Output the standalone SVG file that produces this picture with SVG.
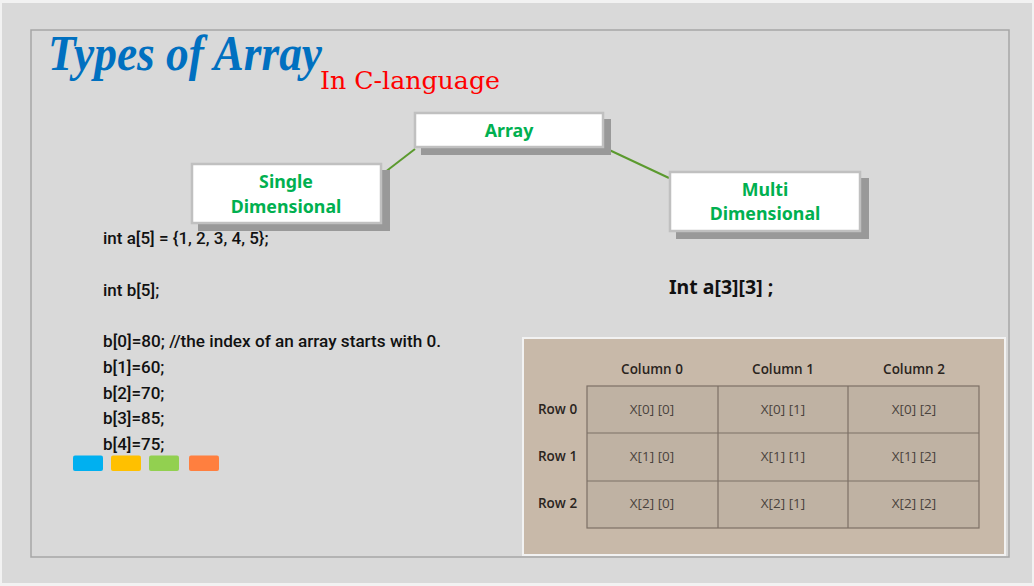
<svg xmlns="http://www.w3.org/2000/svg" width="1034" height="586" viewBox="0 0 1034 586">
<style>
.box{fill:#ffffff;stroke:#c0c0c0;stroke-width:2.5}
.shadow{fill:#999999}
.lbl{font-family:"Noto Sans","Open Sans",sans-serif;font-weight:bold;font-size:17.8px;fill:#00b050;text-anchor:middle}
.code{font-family:Roboto,"Liberation Sans",sans-serif;font-weight:500;font-size:17px;fill:#111111}
.conn{stroke:#5b9a2e;stroke-width:2;fill:none}
.hdr{font-family:"Open Sans","Noto Sans",sans-serif;font-weight:600;font-size:13.5px;fill:#2a2420;text-anchor:middle}
.rowl{font-family:"Open Sans","Noto Sans",sans-serif;font-weight:600;font-size:13.5px;fill:#2a2420}
.cell{font-family:"Open Sans","Noto Sans",sans-serif;font-size:13.5px;fill:#4a433d;text-anchor:middle}
.grid{fill:#bfb2a3;stroke:#7d7066;stroke-width:1.2}
</style>
<rect x="0" y="0" width="1034" height="586" fill="#f2f2f2"/>
<rect x="2" y="3" width="1030" height="580" fill="#d9d9d9"/>
<rect x="31" y="30" width="978" height="527" fill="none" stroke="#a6a6a6" stroke-width="1.5"/>

<g id="title">
<text x="48" y="70" font-family="'Liberation Serif',serif" font-style="italic" font-weight="bold" font-size="50" fill="#0070c0" textLength="274" lengthAdjust="spacingAndGlyphs">Types of Array</text>
<text x="320" y="89" font-family="'DejaVu Serif',serif" font-size="25" fill="#ff0000" textLength="180" lengthAdjust="spacingAndGlyphs">In C-language</text>
</g>

<g id="connectors">
<line class="conn" x1="415" y1="149" x2="380" y2="176"/>
<line class="conn" x1="605" y1="148" x2="669" y2="178"/>
</g>

<g id="node-array">
<rect class="shadow" x="421" y="119" width="190" height="36"/>
<rect class="box" x="415" y="113" width="188" height="34"/>
<text class="lbl" x="509" y="137">Array</text>
</g>

<g id="node-single">
<rect class="shadow" x="198" y="170" width="192" height="61"/>
<rect class="box" x="192" y="164" width="189" height="59"/>
<text class="lbl" x="286" y="188">Single</text>
<text class="lbl" x="286" y="213">Dimensional</text>
</g>

<g id="node-multi">
<rect class="shadow" x="676" y="178" width="193" height="61"/>
<rect class="box" x="670" y="172" width="190" height="59"/>
<text class="lbl" x="765" y="196">Multi</text>
<text class="lbl" x="765" y="220">Dimensional</text>
</g>

<g id="code">
<text class="code" x="103" y="244">int a[5] = {1, 2, 3, 4, 5};</text>
<text class="code" x="103" y="295.5">int b[5];</text>
<text class="code" x="103" y="347" textLength="338" lengthAdjust="spacingAndGlyphs">b[0]=80; //the index of an array starts with 0.</text>
<text class="code" x="103" y="372.5">b[1]=60;</text>
<text class="code" x="103" y="398.5">b[2]=70;</text>
<text class="code" x="103" y="424">b[3]=85;</text>
<text class="code" x="103" y="450">b[4]=75;</text>
</g>

<g id="swatches">
<rect x="73" y="455.5" width="30" height="15.5" rx="2" fill="#00b0f0"/>
<rect x="111" y="455.5" width="30" height="15.5" rx="2" fill="#ffc000"/>
<rect x="149" y="455.5" width="30" height="15.5" rx="2" fill="#92d050"/>
<rect x="189" y="455.5" width="30" height="15.5" rx="2" fill="#ff7f3f"/>
</g>

<g id="decl">
<text x="669" y="294" font-family="'Noto Sans','Open Sans',sans-serif" font-weight="bold" font-size="19.5" fill="#111111">Int a[3][3] ;</text>
</g>

<g id="table">
<rect x="523" y="338" width="482" height="217" fill="#c8b9a9" stroke="#f2f2f2" stroke-width="2"/>
<rect class="grid" x="587" y="386" width="392" height="142"/>
<line class="grid" x1="718" y1="386" x2="718" y2="528"/>
<line class="grid" x1="848" y1="386" x2="848" y2="528"/>
<line class="grid" x1="587" y1="433" x2="979" y2="433"/>
<line class="grid" x1="587" y1="481" x2="979" y2="481"/>
<text class="hdr" x="652" y="374">Column 0</text>
<text class="hdr" x="783" y="374">Column 1</text>
<text class="hdr" x="914" y="374">Column 2</text>
<text class="rowl" x="538" y="414">Row 0</text>
<text class="rowl" x="538" y="461">Row 1</text>
<text class="rowl" x="538" y="508">Row 2</text>
<text class="cell" x="652" y="414">X[0] [0]</text>
<text class="cell" x="783" y="414">X[0] [1]</text>
<text class="cell" x="914" y="414">X[0] [2]</text>
<text class="cell" x="652" y="461">X[1] [0]</text>
<text class="cell" x="783" y="461">X[1] [1]</text>
<text class="cell" x="914" y="461">X[1] [2]</text>
<text class="cell" x="652" y="508">X[2] [0]</text>
<text class="cell" x="783" y="508">X[2] [1]</text>
<text class="cell" x="914" y="508">X[2] [2]</text>
</g>
</svg>
